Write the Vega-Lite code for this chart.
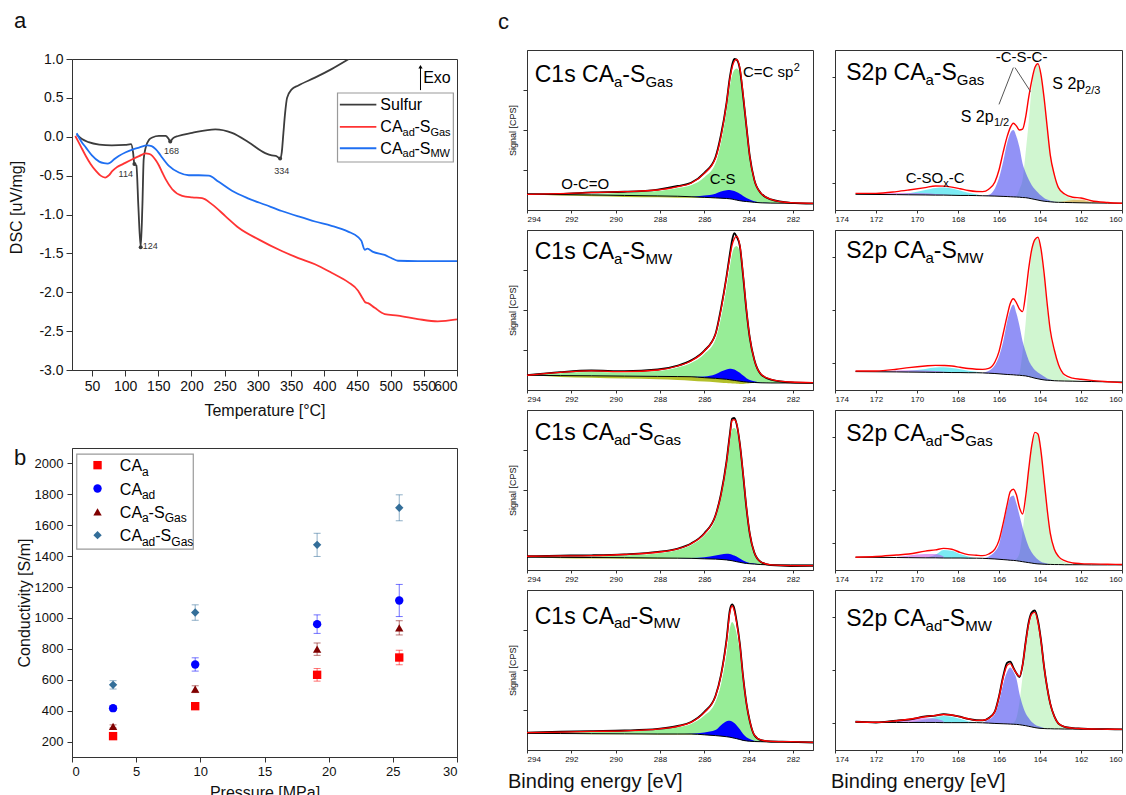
{
"config": {
 "font": "Liberation Sans",
 "locale": {"number": {"decimal": ".", "thousands": ",", "grouping": [3], "currency": ["$", ""], "minus": "-"}},
 "view": {"stroke": "#333333", "strokeWidth": 1},
 "axis": {"labelFont": "Liberation Sans", "titleFont": "Liberation Sans", "titleFontWeight": "normal", "domainColor": "#333333", "tickColor": "#333333", "labelColor": "#111111", "titleColor": "#111111", "grid": false, "labelOverlap": false, "minExtent": 0},
 "title": {"font": "Liberation Sans", "fontWeight": "normal", "color": "#111111"},
 "text": {"font": "Liberation Sans", "color": "#111111"}
},
"padding": {"left": 8, "top": 9, "right": 0, "bottom": 0},
"spacing": 40,
"datasets": {
 "dsc": [
  {"s":"Sulfur","T":27,"v":0.03},{"s":"Sulfur","T":35,"v":-0.03},{"s":"Sulfur","T":45,"v":-0.07},{"s":"Sulfur","T":61,"v":-0.1},{"s":"Sulfur","T":80,"v":-0.11},{"s":"Sulfur","T":100,"v":-0.105},{"s":"Sulfur","T":109,"v":-0.095},{"s":"Sulfur","T":112,"v":-0.2},{"s":"Sulfur","T":114,"v":-0.35},{"s":"Sulfur","T":117,"v":-0.37},{"s":"Sulfur","T":120,"v":-0.9},{"s":"Sulfur","T":123.5,"v":-1.42},{"s":"Sulfur","T":126,"v":-0.9},{"s":"Sulfur","T":128,"v":-0.29},{"s":"Sulfur","T":131,"v":-0.14},{"s":"Sulfur","T":136,"v":-0.04},{"s":"Sulfur","T":141,"v":-0.01},{"s":"Sulfur","T":151,"v":0.01},{"s":"Sulfur","T":161,"v":0.01},{"s":"Sulfur","T":165,"v":-0.02},{"s":"Sulfur","T":168,"v":-0.06},{"s":"Sulfur","T":172,"v":-0.02},{"s":"Sulfur","T":180,"v":0.01},{"s":"Sulfur","T":201,"v":0.05},{"s":"Sulfur","T":236,"v":0.095},{"s":"Sulfur","T":261,"v":0.05},{"s":"Sulfur","T":286,"v":-0.07},{"s":"Sulfur","T":311,"v":-0.21},{"s":"Sulfur","T":321,"v":-0.24},{"s":"Sulfur","T":327,"v":-0.245},{"s":"Sulfur","T":333.5,"v":-0.28},{"s":"Sulfur","T":336,"v":-0.2},{"s":"Sulfur","T":338.5,"v":0.05},{"s":"Sulfur","T":341,"v":0.3},{"s":"Sulfur","T":344,"v":0.5},{"s":"Sulfur","T":351,"v":0.61},{"s":"Sulfur","T":361,"v":0.66},{"s":"Sulfur","T":386,"v":0.76},{"s":"Sulfur","T":411,"v":0.87},{"s":"Sulfur","T":437,"v":1.0},
  {"s":"CAad-SGas","T":25,"v":0.01},{"s":"CAad-SGas","T":33,"v":-0.12},{"s":"CAad-SGas","T":41,"v":-0.25},{"s":"CAad-SGas","T":48,"v":-0.35},{"s":"CAad-SGas","T":56,"v":-0.44},{"s":"CAad-SGas","T":63,"v":-0.5},{"s":"CAad-SGas","T":70,"v":-0.525},{"s":"CAad-SGas","T":75,"v":-0.5},{"s":"CAad-SGas","T":81,"v":-0.44},{"s":"CAad-SGas","T":88,"v":-0.39},{"s":"CAad-SGas","T":96,"v":-0.355},{"s":"CAad-SGas","T":111,"v":-0.29},{"s":"CAad-SGas","T":121,"v":-0.25},{"s":"CAad-SGas","T":131,"v":-0.215},{"s":"CAad-SGas","T":136,"v":-0.22},{"s":"CAad-SGas","T":141,"v":-0.245},{"s":"CAad-SGas","T":146,"v":-0.3},{"s":"CAad-SGas","T":151,"v":-0.37},{"s":"CAad-SGas","T":156,"v":-0.46},{"s":"CAad-SGas","T":161,"v":-0.545},{"s":"CAad-SGas","T":171,"v":-0.675},{"s":"CAad-SGas","T":186,"v":-0.76},{"s":"CAad-SGas","T":201,"v":-0.78},{"s":"CAad-SGas","T":216,"v":-0.79},{"s":"CAad-SGas","T":231,"v":-0.87},{"s":"CAad-SGas","T":251,"v":-1.02},{"s":"CAad-SGas","T":271,"v":-1.17},{"s":"CAad-SGas","T":301,"v":-1.32},{"s":"CAad-SGas","T":336,"v":-1.47},{"s":"CAad-SGas","T":361,"v":-1.56},{"s":"CAad-SGas","T":386,"v":-1.64},{"s":"CAad-SGas","T":411,"v":-1.75},{"s":"CAad-SGas","T":436,"v":-1.87},{"s":"CAad-SGas","T":451,"v":-1.98},{"s":"CAad-SGas","T":458,"v":-2.08},{"s":"CAad-SGas","T":462,"v":-2.13},{"s":"CAad-SGas","T":466,"v":-2.14},{"s":"CAad-SGas","T":476,"v":-2.2},{"s":"CAad-SGas","T":491,"v":-2.28},{"s":"CAad-SGas","T":511,"v":-2.3},{"s":"CAad-SGas","T":541,"v":-2.345},{"s":"CAad-SGas","T":571,"v":-2.375},{"s":"CAad-SGas","T":600,"v":-2.35},
  {"s":"CAad-SMW","T":27,"v":0.045},{"s":"CAad-SMW","T":34,"v":-0.06},{"s":"CAad-SMW","T":41,"v":-0.14},{"s":"CAad-SMW","T":50,"v":-0.24},{"s":"CAad-SMW","T":61,"v":-0.32},{"s":"CAad-SMW","T":68,"v":-0.34},{"s":"CAad-SMW","T":73.5,"v":-0.345},{"s":"CAad-SMW","T":78,"v":-0.33},{"s":"CAad-SMW","T":83.5,"v":-0.29},{"s":"CAad-SMW","T":91,"v":-0.245},{"s":"CAad-SMW","T":101,"v":-0.2},{"s":"CAad-SMW","T":111,"v":-0.165},{"s":"CAad-SMW","T":121,"v":-0.14},{"s":"CAad-SMW","T":133.5,"v":-0.11},{"s":"CAad-SMW","T":140,"v":-0.12},{"s":"CAad-SMW","T":146,"v":-0.16},{"s":"CAad-SMW","T":151,"v":-0.21},{"s":"CAad-SMW","T":156,"v":-0.27},{"s":"CAad-SMW","T":166,"v":-0.375},{"s":"CAad-SMW","T":181,"v":-0.46},{"s":"CAad-SMW","T":196,"v":-0.495},{"s":"CAad-SMW","T":211,"v":-0.495},{"s":"CAad-SMW","T":226,"v":-0.5},{"s":"CAad-SMW","T":241,"v":-0.58},{"s":"CAad-SMW","T":261,"v":-0.695},{"s":"CAad-SMW","T":286,"v":-0.795},{"s":"CAad-SMW","T":311,"v":-0.875},{"s":"CAad-SMW","T":336,"v":-0.955},{"s":"CAad-SMW","T":361,"v":-1.025},{"s":"CAad-SMW","T":386,"v":-1.09},{"s":"CAad-SMW","T":411,"v":-1.145},{"s":"CAad-SMW","T":436,"v":-1.22},{"s":"CAad-SMW","T":451,"v":-1.29},{"s":"CAad-SMW","T":456,"v":-1.34},{"s":"CAad-SMW","T":461,"v":-1.455},{"s":"CAad-SMW","T":465,"v":-1.44},{"s":"CAad-SMW","T":473.5,"v":-1.48},{"s":"CAad-SMW","T":491,"v":-1.52},{"s":"CAad-SMW","T":501,"v":-1.56},{"s":"CAad-SMW","T":511,"v":-1.595},{"s":"CAad-SMW","T":541,"v":-1.6},{"s":"CAad-SMW","T":600,"v":-1.6}
 ],
 "dscPeaks": [{"T":114,"v":-0.35},{"T":123.5,"v":-1.42},{"T":168,"v":-0.06},{"T":333.5,"v":-0.28}],
 "dscPeakLabels": [{"t":"114","T":101,"v":-0.52},{"t":"124","T":138,"v":-1.445},{"t":"168","T":170,"v":-0.225},{"t":"334","T":336,"v":-0.48}],
 "legA": [{"s":"Sulfur","T1":423.5,"T2":478.5,"v":0.413},{"s":"CAad-SGas","T1":423.5,"T2":478.5,"v":0.126},{"s":"CAad-SMW","T1":423.5,"T2":478.5,"v":-0.148}],
 "legAtext": [
  {"t":"Sulfur","T":484.5,"v":0.345,"k":"m"},
  {"t":"CA","T":484.5,"v":0.058,"k":"m"},{"t":"ad","T":518,"v":0.014,"k":"s"},{"t":"-S","T":536,"v":0.058,"k":"m"},{"t":"Gas","T":560,"v":0.014,"k":"s"},
  {"t":"CA","T":484.5,"v":-0.216,"k":"m"},{"t":"ad","T":518,"v":-0.26,"k":"s"},{"t":"-S","T":536,"v":-0.216,"k":"m"},{"t":"MW","T":560,"v":-0.26,"k":"s"},
  {"t":"Exo","T":549,"v":0.69,"k":"m"}
 ],
 "cond": [
  {"s":"CAa","P":3.2,"k":235,"e":8},{"s":"CAa","P":9.6,"k":429,"e":15},{"s":"CAa","P":19.1,"k":632,"e":41},{"s":"CAa","P":25.5,"k":744,"e":47},
  {"s":"CAad","P":3.2,"k":416,"e":15},{"s":"CAad","P":9.6,"k":699,"e":43},{"s":"CAad","P":19.1,"k":960,"e":60},{"s":"CAad","P":25.5,"k":1113,"e":104},
  {"s":"CAa-SGas","P":3.2,"k":298,"e":10},{"s":"CAa-SGas","P":9.6,"k":539,"e":22},{"s":"CAa-SGas","P":19.1,"k":798,"e":40},{"s":"CAa-SGas","P":25.5,"k":936,"e":46},
  {"s":"CAad-SGas","P":3.2,"k":567,"e":27},{"s":"CAad-SGas","P":9.6,"k":1035,"e":50},{"s":"CAad-SGas","P":19.1,"k":1473,"e":75},{"s":"CAad-SGas","P":25.5,"k":1713,"e":84}
 ],
 "legB": [{"s":"CAa","P":1.99,"k":1989},{"s":"CAad","P":1.99,"k":1838},{"s":"CAa-SGas","P":1.99,"k":1687},{"s":"CAad-SGas","P":1.99,"k":1536}],
 "legBtext": [
  {"t":"CA","P":3.73,"k":1950,"z":"m"},{"t":"a","P":5.45,"k":1920,"z":"s"},
  {"t":"CA","P":3.73,"k":1799,"z":"m"},{"t":"ad","P":5.45,"k":1769,"z":"s"},
  {"t":"CA","P":3.73,"k":1648,"z":"m"},{"t":"a","P":5.45,"k":1618,"z":"s"},{"t":"-S","P":5.97,"k":1648,"z":"m"},{"t":"Gas","P":7.22,"k":1618,"z":"s"},
  {"t":"CA","P":3.73,"k":1497,"z":"m"},{"t":"ad","P":5.45,"k":1467,"z":"s"},{"t":"-S","P":6.49,"k":1497,"z":"m"},{"t":"Gas","P":7.74,"k":1467,"z":"s"}
 ],
 "c1s": [
  {"p":"r1","e":294,"f":0.098,"d":0.099,"bg":0.098,"g":0.098,"b":0.098,"o":0.098},
  {"p":"r1","e":292.5,"f":0.102,"d":0.1,"bg":0.096,"g":0.099,"b":0.096,"o":0.09},
  {"p":"r1","e":291.1,"f":0.108,"d":0.11,"bg":0.094,"g":0.1,"b":0.094,"o":0.086},
  {"p":"r1","e":289.6,"f":0.115,"d":0.114,"bg":0.091,"g":0.108,"b":0.091,"o":0.082},
  {"p":"r1","e":288.1,"f":0.125,"d":0.128,"bg":0.088,"g":0.118,"b":0.088,"o":0.079},
  {"p":"r1","e":287.2,"f":0.146,"d":0.15,"bg":0.086,"g":0.138,"b":0.086,"o":0.077},
  {"p":"r1","e":286.6,"f":0.167,"d":0.17,"bg":0.083,"g":0.155,"b":0.083,"o":0.076},
  {"p":"r1","e":286,"f":0.229,"d":0.232,"bg":0.079,"g":0.205,"b":0.09,"o":0.075},
  {"p":"r1","e":285.5,"f":0.323,"d":0.33,"bg":0.076,"g":0.29,"b":0.102,"o":0.074},
  {"p":"r1","e":285.25,"f":0.46,"d":0.47,"bg":0.074,"g":0.42,"b":0.115,"o":0.074},
  {"p":"r1","e":285,"f":0.667,"d":0.67,"bg":0.072,"g":0.62,"b":0.123,"o":0.072},
  {"p":"r1","e":284.85,"f":0.82,"d":0.83,"bg":0.07,"g":0.77,"b":0.125,"o":0.07},
  {"p":"r1","e":284.75,"f":0.89,"d":0.905,"bg":0.068,"g":0.84,"b":0.122,"o":0.068},
  {"p":"r1","e":284.65,"f":0.93,"d":0.945,"bg":0.065,"g":0.875,"b":0.118,"o":0.065},
  {"p":"r1","e":284.55,"f":0.942,"d":0.94,"bg":0.062,"g":0.885,"b":0.112,"o":0.062},
  {"p":"r1","e":284.4,"f":0.89,"d":0.88,"bg":0.058,"g":0.86,"b":0.102,"o":0.058},
  {"p":"r1","e":284.25,"f":0.72,"d":0.71,"bg":0.055,"g":0.7,"b":0.088,"o":0.055},
  {"p":"r1","e":284.1,"f":0.52,"d":0.52,"bg":0.053,"g":0.51,"b":0.075,"o":0.053},
  {"p":"r1","e":283.95,"f":0.333,"d":0.335,"bg":0.051,"g":0.325,"b":0.065,"o":0.051},
  {"p":"r1","e":283.75,"f":0.19,"d":0.19,"bg":0.048,"g":0.185,"b":0.055,"o":0.048},
  {"p":"r1","e":283.45,"f":0.105,"d":0.105,"bg":0.045,"g":0.103,"b":0.047,"o":0.045},
  {"p":"r1","e":283,"f":0.067,"d":0.066,"bg":0.043,"g":0.066,"b":0.043,"o":0.043},
  {"p":"r1","e":282.1,"f":0.046,"d":0.045,"bg":0.042,"g":0.046,"b":0.042,"o":0.042},
  {"p":"r1","e":281.1,"f":0.042,"d":0.04,"bg":0.042,"g":0.042,"b":0.042,"o":0.042},
  {"p":"r2","e":294,"f":0.092,"d":0.093,"bg":0.092,"g":0.092,"b":0.092,"o":0.092},
  {"p":"r2","e":292.5,"f":0.11,"d":0.112,"bg":0.09,"g":0.105,"b":0.09,"o":0.082},
  {"p":"r2","e":291.1,"f":0.119,"d":0.122,"bg":0.089,"g":0.112,"b":0.089,"o":0.077},
  {"p":"r2","e":289.6,"f":0.115,"d":0.118,"bg":0.087,"g":0.11,"b":0.087,"o":0.072},
  {"p":"r2","e":288.1,"f":0.125,"d":0.128,"bg":0.085,"g":0.118,"b":0.085,"o":0.067},
  {"p":"r2","e":287.2,"f":0.15,"d":0.152,"bg":0.084,"g":0.14,"b":0.084,"o":0.062},
  {"p":"r2","e":286.6,"f":0.181,"d":0.185,"bg":0.083,"g":0.168,"b":0.083,"o":0.058},
  {"p":"r2","e":286,"f":0.244,"d":0.246,"bg":0.077,"g":0.225,"b":0.085,"o":0.053},
  {"p":"r2","e":285.5,"f":0.348,"d":0.35,"bg":0.073,"g":0.315,"b":0.098,"o":0.049},
  {"p":"r2","e":285.25,"f":0.5,"d":0.51,"bg":0.07,"g":0.45,"b":0.115,"o":0.046},
  {"p":"r2","e":285,"f":0.705,"d":0.71,"bg":0.067,"g":0.64,"b":0.128,"o":0.044},
  {"p":"r2","e":284.85,"f":0.83,"d":0.85,"bg":0.064,"g":0.77,"b":0.133,"o":0.042},
  {"p":"r2","e":284.75,"f":0.905,"d":0.935,"bg":0.062,"g":0.85,"b":0.132,"o":0.041},
  {"p":"r2","e":284.65,"f":0.945,"d":0.98,"bg":0.06,"g":0.89,"b":0.128,"o":0.04},
  {"p":"r2","e":284.55,"f":0.962,"d":0.96,"bg":0.058,"g":0.9,"b":0.12,"o":0.039},
  {"p":"r2","e":284.4,"f":0.905,"d":0.9,"bg":0.055,"g":0.86,"b":0.108,"o":0.038},
  {"p":"r2","e":284.25,"f":0.72,"d":0.71,"bg":0.052,"g":0.69,"b":0.09,"o":0.038},
  {"p":"r2","e":284.1,"f":0.5,"d":0.495,"bg":0.05,"g":0.48,"b":0.074,"o":0.04},
  {"p":"r2","e":283.95,"f":0.327,"d":0.325,"bg":0.048,"g":0.315,"b":0.062,"o":0.042},
  {"p":"r2","e":283.75,"f":0.19,"d":0.19,"bg":0.047,"g":0.185,"b":0.054,"o":0.043},
  {"p":"r2","e":283.45,"f":0.1,"d":0.098,"bg":0.045,"g":0.098,"b":0.047,"o":0.044},
  {"p":"r2","e":283,"f":0.067,"d":0.065,"bg":0.044,"g":0.066,"b":0.044,"o":0.044},
  {"p":"r2","e":282.1,"f":0.05,"d":0.048,"bg":0.044,"g":0.05,"b":0.044,"o":0.044},
  {"p":"r2","e":281.1,"f":0.046,"d":0.045,"bg":0.044,"g":0.046,"b":0.044,"o":0.044},
  {"p":"r3","e":294,"f":0.086,"d":0.086,"bg":0.08,"g":0.08,"b":0.08,"o":0.08},
  {"p":"r3","e":292.5,"f":0.088,"d":0.09,"bg":0.079,"g":0.082,"b":0.079,"o":0.074},
  {"p":"r3","e":291.1,"f":0.09,"d":0.092,"bg":0.078,"g":0.084,"b":0.078,"o":0.072},
  {"p":"r3","e":289.6,"f":0.097,"d":0.098,"bg":0.077,"g":0.09,"b":0.077,"o":0.071},
  {"p":"r3","e":288.1,"f":0.111,"d":0.113,"bg":0.075,"g":0.104,"b":0.075,"o":0.071},
  {"p":"r3","e":287.2,"f":0.132,"d":0.134,"bg":0.074,"g":0.125,"b":0.074,"o":0.072},
  {"p":"r3","e":286.6,"f":0.164,"d":0.166,"bg":0.073,"g":0.155,"b":0.075,"o":0.073},
  {"p":"r3","e":286,"f":0.227,"d":0.23,"bg":0.07,"g":0.215,"b":0.08,"o":0.07},
  {"p":"r3","e":285.5,"f":0.34,"d":0.34,"bg":0.068,"g":0.32,"b":0.09,"o":0.068},
  {"p":"r3","e":285.25,"f":0.47,"d":0.475,"bg":0.066,"g":0.45,"b":0.097,"o":0.066},
  {"p":"r3","e":285,"f":0.675,"d":0.68,"bg":0.063,"g":0.645,"b":0.101,"o":0.063},
  {"p":"r3","e":284.85,"f":0.84,"d":0.85,"bg":0.06,"g":0.8,"b":0.1,"o":0.06},
  {"p":"r3","e":284.75,"f":0.935,"d":0.945,"bg":0.058,"g":0.88,"b":0.096,"o":0.058},
  {"p":"r3","e":284.65,"f":0.94,"d":0.95,"bg":0.055,"g":0.888,"b":0.09,"o":0.055},
  {"p":"r3","e":284.55,"f":0.918,"d":0.915,"bg":0.052,"g":0.87,"b":0.084,"o":0.052},
  {"p":"r3","e":284.4,"f":0.79,"d":0.79,"bg":0.048,"g":0.76,"b":0.072,"o":0.048},
  {"p":"r3","e":284.25,"f":0.6,"d":0.595,"bg":0.044,"g":0.58,"b":0.06,"o":0.044},
  {"p":"r3","e":284.1,"f":0.39,"d":0.385,"bg":0.041,"g":0.38,"b":0.05,"o":0.041},
  {"p":"r3","e":283.95,"f":0.227,"d":0.225,"bg":0.039,"g":0.22,"b":0.044,"o":0.039},
  {"p":"r3","e":283.75,"f":0.11,"d":0.11,"bg":0.037,"g":0.108,"b":0.04,"o":0.037},
  {"p":"r3","e":283.45,"f":0.05,"d":0.05,"bg":0.034,"g":0.05,"b":0.035,"o":0.034},
  {"p":"r3","e":283,"f":0.032,"d":0.03,"bg":0.032,"g":0.032,"b":0.032,"o":0.032},
  {"p":"r3","e":282.1,"f":0.027,"d":0.025,"bg":0.032,"g":0.027,"b":0.032,"o":0.032},
  {"p":"r3","e":281.1,"f":0.027,"d":0.026,"bg":0.032,"g":0.027,"b":0.032,"o":0.032},
  {"p":"r4","e":294,"f":0.108,"d":0.108,"bg":0.104,"g":0.104,"b":0.104,"o":0.104},
  {"p":"r4","e":292.5,"f":0.112,"d":0.114,"bg":0.103,"g":0.108,"b":0.103,"o":0.1},
  {"p":"r4","e":291.1,"f":0.116,"d":0.118,"bg":0.102,"g":0.112,"b":0.102,"o":0.099},
  {"p":"r4","e":289.6,"f":0.12,"d":0.122,"bg":0.101,"g":0.116,"b":0.101,"o":0.098},
  {"p":"r4","e":288.1,"f":0.131,"d":0.132,"bg":0.1,"g":0.127,"b":0.1,"o":0.097},
  {"p":"r4","e":287.2,"f":0.148,"d":0.15,"bg":0.1,"g":0.142,"b":0.1,"o":0.097},
  {"p":"r4","e":286.6,"f":0.173,"d":0.175,"bg":0.1,"g":0.163,"b":0.102,"o":0.097},
  {"p":"r4","e":286,"f":0.235,"d":0.238,"bg":0.095,"g":0.215,"b":0.11,"o":0.093},
  {"p":"r4","e":285.5,"f":0.335,"d":0.338,"bg":0.09,"g":0.3,"b":0.125,"o":0.089},
  {"p":"r4","e":285.25,"f":0.465,"d":0.47,"bg":0.087,"g":0.41,"b":0.155,"o":0.086},
  {"p":"r4","e":285,"f":0.68,"d":0.69,"bg":0.083,"g":0.6,"b":0.18,"o":0.083},
  {"p":"r4","e":284.85,"f":0.86,"d":0.875,"bg":0.08,"g":0.76,"b":0.183,"o":0.08},
  {"p":"r4","e":284.75,"f":0.9,"d":0.91,"bg":0.077,"g":0.8,"b":0.178,"o":0.077},
  {"p":"r4","e":284.65,"f":0.87,"d":0.885,"bg":0.074,"g":0.78,"b":0.168,"o":0.074},
  {"p":"r4","e":284.55,"f":0.8,"d":0.81,"bg":0.071,"g":0.73,"b":0.155,"o":0.071},
  {"p":"r4","e":284.4,"f":0.66,"d":0.665,"bg":0.066,"g":0.61,"b":0.13,"o":0.066},
  {"p":"r4","e":284.25,"f":0.453,"d":0.455,"bg":0.06,"g":0.42,"b":0.1,"o":0.06},
  {"p":"r4","e":284.1,"f":0.29,"d":0.29,"bg":0.057,"g":0.275,"b":0.08,"o":0.057},
  {"p":"r4","e":283.95,"f":0.18,"d":0.18,"bg":0.055,"g":0.17,"b":0.069,"o":0.055},
  {"p":"r4","e":283.75,"f":0.095,"d":0.094,"bg":0.053,"g":0.092,"b":0.058,"o":0.053},
  {"p":"r4","e":283.45,"f":0.063,"d":0.062,"bg":0.052,"g":0.062,"b":0.053,"o":0.052},
  {"p":"r4","e":283,"f":0.054,"d":0.053,"bg":0.05,"g":0.054,"b":0.05,"o":0.05},
  {"p":"r4","e":282.1,"f":0.052,"d":0.051,"bg":0.049,"g":0.052,"b":0.049,"o":0.049},
  {"p":"r4","e":281.1,"f":0.048,"d":0.047,"bg":0.048,"g":0.048,"b":0.048,"o":0.048},
  {"p":"r1","e":293.65,"y":0.8,"t":"C1s CA","k":"T"},{"p":"r1","e":290.08,"y":0.77,"t":"a","k":"Ts"},{"p":"r1","e":289.7,"y":0.8,"t":"-S","k":"T"},{"p":"r1","e":288.66,"y":0.77,"t":"Gas","k":"Ts"},
  {"p":"r1","e":284.26,"y":0.833,"t":"C=C sp","k":"L"},{"p":"r1","e":281.97,"y":0.87,"t":"2","k":"S"},{"p":"r1","e":292.45,"y":0.129,"t":"O-C=O","k":"L"},{"p":"r1","e":285.76,"y":0.1625,"t":"C-S","k":"L"},
  {"p":"r2","e":293.65,"y":0.82,"t":"C1s CA","k":"T"},{"p":"r2","e":290.08,"y":0.79,"t":"a","k":"Ts"},{"p":"r2","e":289.7,"y":0.82,"t":"-S","k":"T"},{"p":"r2","e":288.66,"y":0.79,"t":"MW","k":"Ts"},
  {"p":"r3","e":293.65,"y":0.81,"t":"C1s CA","k":"T"},{"p":"r3","e":290.08,"y":0.78,"t":"ad","k":"Ts"},{"p":"r3","e":289.33,"y":0.81,"t":"-S","k":"T"},{"p":"r3","e":288.29,"y":0.78,"t":"Gas","k":"Ts"},
  {"p":"r4","e":293.65,"y":0.79,"t":"C1s CA","k":"T"},{"p":"r4","e":290.08,"y":0.76,"t":"ad","k":"Ts"},{"p":"r4","e":289.33,"y":0.79,"t":"-S","k":"T"},{"p":"r4","e":288.29,"y":0.76,"t":"MW","k":"Ts"}
 ],
 "s2p": [
  {"p":"r1","e":173,"f":0.104,"bg":0.098,"m":0.098},
  {"p":"r1","e":172,"f":0.104,"bg":0.097,"m":0.102},
  {"p":"r1","e":171,"f":0.115,"bg":0.096,"c":0.096,"m":0.106},
  {"p":"r1","e":170.4,"f":0.125,"bg":0.095,"c":0.105,"m":0.106},
  {"p":"r1","e":169.6,"f":0.14,"bg":0.094,"c":0.125,"m":0.104},
  {"p":"r1","e":169.1,"f":0.15,"bg":0.093,"c":0.138,"m":0.1},
  {"p":"r1","e":168.7,"f":0.149,"bg":0.093,"c":0.14,"m":0.097},
  {"p":"r1","e":168.3,"f":0.143,"bg":0.092,"c":0.135,"m":0.094},
  {"p":"r1","e":167.9,"f":0.133,"bg":0.091,"c":0.122,"m":0.091},
  {"p":"r1","e":167.5,"f":0.122,"bg":0.091,"c":0.108},
  {"p":"r1","e":167.1,"f":0.116,"bg":0.09,"c":0.098},
  {"p":"r1","e":166.8,"f":0.115,"bg":0.089,"c":0.089,"b":0.089},
  {"p":"r1","e":166.5,"f":0.13,"bg":0.088,"b":0.095},
  {"p":"r1","e":166.2,"f":0.175,"bg":0.087,"b":0.135},
  {"p":"r1","e":166,"f":0.25,"bg":0.086,"b":0.2},
  {"p":"r1","e":165.8,"f":0.36,"bg":0.085,"b":0.3},
  {"p":"r1","e":165.6,"f":0.46,"bg":0.084,"b":0.42},
  {"p":"r1","e":165.45,"f":0.515,"bg":0.083,"b":0.48},
  {"p":"r1","e":165.3,"f":0.542,"bg":0.082,"b":0.5,"g":0.082},
  {"p":"r1","e":165.15,"f":0.525,"bg":0.081,"b":0.46,"g":0.09},
  {"p":"r1","e":165,"f":0.5,"bg":0.08,"b":0.39,"g":0.13},
  {"p":"r1","e":164.85,"f":0.505,"bg":0.078,"b":0.29,"g":0.19},
  {"p":"r1","e":164.7,"f":0.58,"bg":0.077,"b":0.235,"g":0.36},
  {"p":"r1","e":164.55,"f":0.705,"bg":0.074,"b":0.19,"g":0.55},
  {"p":"r1","e":164.4,"f":0.81,"bg":0.07,"b":0.155,"g":0.77},
  {"p":"r1","e":164.25,"f":0.89,"bg":0.066,"b":0.13,"g":0.88},
  {"p":"r1","e":164.1,"f":0.915,"bg":0.062,"b":0.11,"g":0.915},
  {"p":"r1","e":163.95,"f":0.845,"bg":0.058,"b":0.09,"g":0.84},
  {"p":"r1","e":163.8,"f":0.7,"bg":0.055,"b":0.075,"g":0.7},
  {"p":"r1","e":163.65,"f":0.52,"bg":0.053,"b":0.065,"g":0.52},
  {"p":"r1","e":163.5,"f":0.345,"bg":0.051,"b":0.058,"g":0.35},
  {"p":"r1","e":163.3,"f":0.22,"bg":0.049,"b":0.052,"g":0.22},
  {"p":"r1","e":163.1,"f":0.14,"bg":0.048,"b":0.048,"g":0.14,"o":0.048},
  {"p":"r1","e":162.8,"f":0.1,"bg":0.047,"g":0.095,"o":0.055},
  {"p":"r1","e":162.4,"f":0.08,"bg":0.046,"g":0.07,"o":0.062},
  {"p":"r1","e":162,"f":0.075,"bg":0.045,"g":0.06,"o":0.065},
  {"p":"r1","e":161.5,"f":0.058,"bg":0.044,"g":0.05,"o":0.05},
  {"p":"r1","e":160.7,"f":0.047,"bg":0.043,"g":0.043,"o":0.043},
  {"p":"r1","e":160,"f":0.042,"bg":0.042},
  {"p":"r2","e":173,"f":0.119,"bg":0.115,"m":0.115},
  {"p":"r2","e":172,"f":0.119,"bg":0.114,"m":0.116},
  {"p":"r2","e":171,"f":0.13,"bg":0.113,"c":0.113,"m":0.122},
  {"p":"r2","e":170.4,"f":0.14,"bg":0.112,"c":0.12,"m":0.124},
  {"p":"r2","e":169.6,"f":0.15,"bg":0.111,"c":0.132,"m":0.122},
  {"p":"r2","e":169.1,"f":0.154,"bg":0.11,"c":0.14,"m":0.118},
  {"p":"r2","e":168.7,"f":0.153,"bg":0.11,"c":0.142,"m":0.114},
  {"p":"r2","e":168.3,"f":0.15,"bg":0.109,"c":0.138,"m":0.11},
  {"p":"r2","e":167.9,"f":0.142,"bg":0.109,"c":0.13,"m":0.109},
  {"p":"r2","e":167.5,"f":0.134,"bg":0.108,"c":0.12},
  {"p":"r2","e":167.1,"f":0.13,"bg":0.108,"c":0.114},
  {"p":"r2","e":166.8,"f":0.129,"bg":0.107,"c":0.107,"b":0.107},
  {"p":"r2","e":166.5,"f":0.135,"bg":0.105,"b":0.12},
  {"p":"r2","e":166.2,"f":0.175,"bg":0.103,"b":0.155},
  {"p":"r2","e":166,"f":0.24,"bg":0.101,"b":0.21},
  {"p":"r2","e":165.8,"f":0.35,"bg":0.099,"b":0.3},
  {"p":"r2","e":165.6,"f":0.465,"bg":0.097,"b":0.43},
  {"p":"r2","e":165.45,"f":0.54,"bg":0.096,"b":0.5},
  {"p":"r2","e":165.3,"f":0.57,"bg":0.095,"b":0.535,"g":0.095},
  {"p":"r2","e":165.15,"f":0.545,"bg":0.093,"b":0.48,"g":0.093},
  {"p":"r2","e":165,"f":0.505,"bg":0.092,"b":0.4,"g":0.11},
  {"p":"r2","e":164.85,"f":0.49,"bg":0.09,"b":0.305,"g":0.24},
  {"p":"r2","e":164.7,"f":0.6,"bg":0.088,"b":0.24,"g":0.42},
  {"p":"r2","e":164.55,"f":0.76,"bg":0.084,"b":0.185,"g":0.67},
  {"p":"r2","e":164.4,"f":0.88,"bg":0.079,"b":0.15,"g":0.86},
  {"p":"r2","e":164.25,"f":0.94,"bg":0.074,"b":0.125,"g":0.94},
  {"p":"r2","e":164.1,"f":0.955,"bg":0.07,"b":0.11,"g":0.945},
  {"p":"r2","e":163.95,"f":0.88,"bg":0.066,"b":0.097,"g":0.86},
  {"p":"r2","e":163.8,"f":0.73,"bg":0.063,"b":0.085,"g":0.71},
  {"p":"r2","e":163.65,"f":0.54,"bg":0.061,"b":0.072,"g":0.52},
  {"p":"r2","e":163.5,"f":0.375,"bg":0.06,"b":0.066,"g":0.36},
  {"p":"r2","e":163.3,"f":0.25,"bg":0.058,"b":0.06,"g":0.24},
  {"p":"r2","e":163.1,"f":0.16,"bg":0.057,"b":0.057,"g":0.15},
  {"p":"r2","e":162.8,"f":0.095,"bg":0.056,"g":0.085},
  {"p":"r2","e":162.4,"f":0.074,"bg":0.055,"g":0.062},
  {"p":"r2","e":162,"f":0.067,"bg":0.054,"g":0.056},
  {"p":"r2","e":161.5,"f":0.06,"bg":0.053,"g":0.053},
  {"p":"r2","e":160.7,"f":0.052,"bg":0.051,"g":0.051},
  {"p":"r2","e":160,"f":0.046,"bg":0.05},
  {"p":"r3","e":173,"f":0.08,"bg":0.08},
  {"p":"r3","e":172,"f":0.084,"bg":0.079},
  {"p":"r3","e":171,"f":0.094,"bg":0.078,"m":0.082},
  {"p":"r3","e":170.4,"f":0.1,"bg":0.077,"m":0.09},
  {"p":"r3","e":169.6,"f":0.118,"bg":0.076,"c":0.076,"m":0.1},
  {"p":"r3","e":169.1,"f":0.126,"bg":0.076,"c":0.095,"m":0.1},
  {"p":"r3","e":168.7,"f":0.135,"bg":0.075,"c":0.125,"m":0.085},
  {"p":"r3","e":168.3,"f":0.13,"bg":0.075,"c":0.12},
  {"p":"r3","e":167.9,"f":0.11,"bg":0.075,"c":0.1},
  {"p":"r3","e":167.5,"f":0.096,"bg":0.074,"c":0.085},
  {"p":"r3","e":167.1,"f":0.092,"bg":0.074,"c":0.074},
  {"p":"r3","e":166.8,"f":0.09,"bg":0.073,"b":0.073},
  {"p":"r3","e":166.5,"f":0.1,"bg":0.071,"b":0.085},
  {"p":"r3","e":166.2,"f":0.13,"bg":0.069,"b":0.115},
  {"p":"r3","e":166,"f":0.185,"bg":0.067,"b":0.16},
  {"p":"r3","e":165.8,"f":0.29,"bg":0.065,"b":0.27},
  {"p":"r3","e":165.6,"f":0.41,"bg":0.063,"b":0.39},
  {"p":"r3","e":165.45,"f":0.49,"bg":0.061,"b":0.455},
  {"p":"r3","e":165.3,"f":0.505,"bg":0.06,"b":0.465,"g":0.06},
  {"p":"r3","e":165.15,"f":0.47,"bg":0.058,"b":0.415,"g":0.07},
  {"p":"r3","e":165,"f":0.39,"bg":0.055,"b":0.34,"g":0.105},
  {"p":"r3","e":164.85,"f":0.35,"bg":0.052,"b":0.265,"g":0.24},
  {"p":"r3","e":164.7,"f":0.458,"bg":0.049,"b":0.2,"g":0.41},
  {"p":"r3","e":164.55,"f":0.63,"bg":0.046,"b":0.145,"g":0.62},
  {"p":"r3","e":164.4,"f":0.78,"bg":0.043,"b":0.11,"g":0.77},
  {"p":"r3","e":164.25,"f":0.86,"bg":0.04,"b":0.085,"g":0.845},
  {"p":"r3","e":164.1,"f":0.85,"bg":0.038,"b":0.065,"g":0.85},
  {"p":"r3","e":163.95,"f":0.74,"bg":0.037,"b":0.052,"g":0.74},
  {"p":"r3","e":163.8,"f":0.563,"bg":0.036,"b":0.045,"g":0.56},
  {"p":"r3","e":163.65,"f":0.38,"bg":0.035,"b":0.04,"g":0.38},
  {"p":"r3","e":163.5,"f":0.23,"bg":0.035,"b":0.035,"g":0.235},
  {"p":"r3","e":163.3,"f":0.13,"bg":0.034,"g":0.13},
  {"p":"r3","e":163.1,"f":0.085,"bg":0.034,"g":0.082},
  {"p":"r3","e":162.8,"f":0.058,"bg":0.033,"g":0.05},
  {"p":"r3","e":162.4,"f":0.044,"bg":0.033,"g":0.037},
  {"p":"r3","e":162,"f":0.04,"bg":0.033,"g":0.033},
  {"p":"r3","e":161.5,"f":0.038,"bg":0.032},
  {"p":"r3","e":160.7,"f":0.036,"bg":0.032},
  {"p":"r3","e":160,"f":0.034,"bg":0.032},
  {"p":"r4","e":173,"f":0.177,"d":0.177,"bg":0.173},
  {"p":"r4","e":172,"f":0.173,"d":0.172,"bg":0.173,"m":0.173},
  {"p":"r4","e":171,"f":0.183,"d":0.184,"bg":0.172,"m":0.18},
  {"p":"r4","e":170.4,"f":0.192,"d":0.19,"bg":0.172,"c":0.172,"m":0.19},
  {"p":"r4","e":169.6,"f":0.208,"d":0.21,"bg":0.172,"c":0.19,"m":0.198},
  {"p":"r4","e":169.1,"f":0.216,"d":0.215,"bg":0.172,"c":0.205,"m":0.195},
  {"p":"r4","e":168.7,"f":0.222,"d":0.224,"bg":0.171,"c":0.212,"m":0.18},
  {"p":"r4","e":168.3,"f":0.219,"d":0.218,"bg":0.171,"c":0.208},
  {"p":"r4","e":167.9,"f":0.207,"d":0.208,"bg":0.171,"c":0.195},
  {"p":"r4","e":167.5,"f":0.195,"d":0.194,"bg":0.171,"c":0.18},
  {"p":"r4","e":167.1,"f":0.185,"d":0.186,"bg":0.171,"c":0.171},
  {"p":"r4","e":166.8,"f":0.186,"d":0.185,"bg":0.17,"b":0.17},
  {"p":"r4","e":166.5,"f":0.198,"d":0.2,"bg":0.168,"b":0.19},
  {"p":"r4","e":166.2,"f":0.24,"d":0.242,"bg":0.166,"b":0.225},
  {"p":"r4","e":166,"f":0.33,"d":0.335,"bg":0.165,"b":0.3},
  {"p":"r4","e":165.8,"f":0.45,"d":0.46,"bg":0.164,"b":0.41},
  {"p":"r4","e":165.6,"f":0.53,"d":0.545,"bg":0.163,"b":0.49},
  {"p":"r4","e":165.45,"f":0.54,"d":0.552,"bg":0.162,"b":0.515,"g":0.162},
  {"p":"r4","e":165.3,"f":0.51,"d":0.515,"bg":0.161,"b":0.49,"g":0.17},
  {"p":"r4","e":165.15,"f":0.48,"d":0.48,"bg":0.16,"b":0.445,"g":0.2},
  {"p":"r4","e":165,"f":0.46,"d":0.455,"bg":0.158,"b":0.35,"g":0.3},
  {"p":"r4","e":164.85,"f":0.53,"d":0.53,"bg":0.155,"b":0.28,"g":0.46},
  {"p":"r4","e":164.7,"f":0.67,"d":0.675,"bg":0.152,"b":0.23,"g":0.63},
  {"p":"r4","e":164.55,"f":0.79,"d":0.8,"bg":0.148,"b":0.2,"g":0.76},
  {"p":"r4","e":164.4,"f":0.85,"d":0.86,"bg":0.144,"b":0.175,"g":0.835},
  {"p":"r4","e":164.25,"f":0.86,"d":0.872,"bg":0.14,"b":0.16,"g":0.855},
  {"p":"r4","e":164.1,"f":0.8,"d":0.81,"bg":0.137,"b":0.15,"g":0.8},
  {"p":"r4","e":163.95,"f":0.68,"d":0.685,"bg":0.135,"b":0.143,"g":0.68},
  {"p":"r4","e":163.8,"f":0.52,"d":0.52,"bg":0.134,"b":0.138,"g":0.52},
  {"p":"r4","e":163.65,"f":0.39,"d":0.39,"bg":0.133,"g":0.39},
  {"p":"r4","e":163.5,"f":0.29,"d":0.29,"bg":0.133,"g":0.29},
  {"p":"r4","e":163.3,"f":0.21,"d":0.21,"bg":0.132,"g":0.21},
  {"p":"r4","e":163.1,"f":0.165,"d":0.165,"bg":0.132,"g":0.165},
  {"p":"r4","e":162.8,"f":0.145,"d":0.145,"bg":0.131,"g":0.142},
  {"p":"r4","e":162.4,"f":0.137,"d":0.137,"bg":0.131,"g":0.135},
  {"p":"r4","e":162,"f":0.134,"d":0.134,"bg":0.13,"g":0.132},
  {"p":"r4","e":161.5,"f":0.131,"d":0.131,"bg":0.13,"g":0.13},
  {"p":"r4","e":160.7,"f":0.13,"d":0.13,"bg":0.13,"g":0.13},
  {"p":"r4","e":160,"f":0.129,"d":0.129,"bg":0.129},
  {"p":"r1","e":173.45,"y":0.81,"t":"S2p CA","k":"T"},{"p":"r1","e":169.58,"y":0.78,"t":"a","k":"Ts"},{"p":"r1","e":169.18,"y":0.81,"t":"-S","k":"T"},{"p":"r1","e":168.06,"y":0.78,"t":"Gas","k":"Ts"},
  {"p":"r1","e":166.16,"y":0.927,"t":"-C-S-C-","k":"L"},{"p":"r1","e":167.87,"y":0.552,"t":"S 2p","k":"M"},{"p":"r1","e":166.25,"y":0.525,"t":"1/2","k":"S"},{"p":"r1","e":163.4,"y":0.754,"t":"S 2p","k":"M"},{"p":"r1","e":161.8,"y":0.727,"t":"2/3","k":"S"},
  {"p":"r1","e":170.55,"y":0.171,"t":"C-SO","k":"L"},{"p":"r1","e":168.72,"y":0.142,"t":"x","k":"S"},{"p":"r1","e":168.45,"y":0.171,"t":"-C","k":"L"},
  {"p":"r1","e":165.3,"y":0.89,"e2":166.0,"y2":0.66,"k":"A"},{"p":"r1","e":165.22,"y":0.89,"e2":164.46,"y2":0.74,"k":"A"},
  {"p":"r2","e":173.45,"y":0.825,"t":"S2p CA","k":"T"},{"p":"r2","e":169.58,"y":0.795,"t":"a","k":"Ts"},{"p":"r2","e":169.18,"y":0.825,"t":"-S","k":"T"},{"p":"r2","e":168.06,"y":0.795,"t":"MW","k":"Ts"},
  {"p":"r3","e":173.45,"y":0.805,"t":"S2p CA","k":"T"},{"p":"r3","e":169.58,"y":0.775,"t":"ad","k":"Ts"},{"p":"r3","e":168.77,"y":0.805,"t":"-S","k":"T"},{"p":"r3","e":167.65,"y":0.775,"t":"Gas","k":"Ts"},
  {"p":"r4","e":173.45,"y":0.775,"t":"S2p CA","k":"T"},{"p":"r4","e":169.58,"y":0.745,"t":"ad","k":"Ts"},{"p":"r4","e":168.77,"y":0.775,"t":"-S","k":"T"},{"p":"r4","e":167.65,"y":0.745,"t":"MW","k":"Ts"}
 ]
},
"hconcat": [
 {
  "spacing": 8,
  "bounds": "flush",
  "vconcat": [
   {"width": 385, "height": 1, "view": {"stroke": null}, "data": {"values": [{}]}, "mark": {"type": "point", "opacity": 0}, "encoding": {}},
   {
    "resolve": {"scale": {"color": "independent", "shape": "independent"}},
    "spacing": 78,
    "bounds": "flush",
    "vconcat": [
     {
      "width": 385, "height": 311,
      "title": {"text": "a", "anchor": "start", "frame": "bounds", "fontSize": 22, "offset": 19, "dx": 5},
      "layer": [
       {"data": {"name": "dsc"}, "mark": {"type": "line", "strokeWidth": 1.8, "interpolate": "monotone", "clip": true},
        "encoding": {
         "x": {"field": "T", "type": "quantitative", "scale": {"domain": [20, 600], "nice": false, "zero": false}, "axis": {"values": [50,100,150,200,250,300,350,400,450,500,550,600], "tickCount": 40, "labelOverlap": false, "labelFontSize": 14, "tickSize": 6, "labelPadding": 3, "title": "Temperature [°C]", "titleFontSize": 16, "titlePadding": 9}},
         "y": {"field": "v", "type": "quantitative", "scale": {"domain": [-3, 1], "nice": false}, "axis": {"values": [-3,-2.5,-2,-1.5,-1,-0.5,0,0.5,1], "tickCount": 40, "labelOverlap": false, "format": ".1f", "labelFontSize": 14, "tickSize": 6, "labelPadding": 3, "title": "DSC [uV/mg]", "titleFontSize": 16, "titlePadding": 14, "titleY": 148}},
         "color": {"field": "s", "type": "nominal", "scale": {"domain": ["Sulfur","CAad-SGas","CAad-SMW"], "range": ["#3c3c3c","#ff3333","#1f6ff2"]}, "legend": null}
        }},
       {"data": {"name": "dscPeaks"}, "mark": {"type": "point", "filled": true, "color": "#3c3c3c", "size": 16, "opacity": 1},
        "encoding": {"x": {"field": "T", "type": "quantitative"}, "y": {"field": "v", "type": "quantitative"}}},
       {"data": {"name": "dscPeakLabels"}, "mark": {"type": "text", "fontSize": 9, "color": "#333333", "align": "center", "baseline": "alphabetic"},
        "encoding": {"x": {"field": "T", "type": "quantitative"}, "y": {"field": "v", "type": "quantitative"}, "text": {"field": "t"}}},
       {"data": {"values": [{}]}, "mark": {"type": "rect", "fill": "white", "stroke": "#9a9a9a", "strokeWidth": 1.2},
        "encoding": {"x": {"datum": 420}, "x2": {"datum": 594.5}, "y": {"datum": 0.563}, "y2": {"datum": -0.325}}},
       {"data": {"name": "legA"}, "mark": {"type": "rule", "strokeWidth": 1.8},
        "encoding": {"x": {"field": "T1", "type": "quantitative"}, "x2": {"field": "T2"}, "y": {"field": "v", "type": "quantitative"}, "color": {"field": "s", "type": "nominal", "legend": null}}},
       {"data": {"name": "legAtext"}, "transform": [{"filter": "datum.k === 'm'"}], "mark": {"type": "text", "align": "left", "baseline": "alphabetic", "fontSize": 16, "color": "#000000"},
        "encoding": {"x": {"field": "T", "type": "quantitative"}, "y": {"field": "v", "type": "quantitative"}, "text": {"field": "t"}}},
       {"data": {"name": "legAtext"}, "transform": [{"filter": "datum.k === 's'"}], "mark": {"type": "text", "align": "left", "baseline": "alphabetic", "fontSize": 11, "color": "#000000"},
        "encoding": {"x": {"field": "T", "type": "quantitative"}, "y": {"field": "v", "type": "quantitative"}, "text": {"field": "t"}}},
       {"data": {"values": [{}]}, "mark": {"type": "rule", "strokeWidth": 1, "color": "#000000"},
        "encoding": {"x": {"datum": 545}, "y": {"datum": 0.6}, "y2": {"datum": 0.9}}},
       {"data": {"values": [{}]}, "mark": {"type": "point", "shape": "triangle-up", "filled": true, "color": "#000000", "size": 18, "opacity": 1},
        "encoding": {"x": {"datum": 545}, "y": {"datum": 0.9}}}
      ]
     },
     {
      "width": 385, "height": 309,
      "title": {"text": "b", "anchor": "start", "frame": "bounds", "fontSize": 22, "dy": 26, "dx": -2},
      "layer": [
       {"data": {"name": "cond"}, "mark": {"type": "errorbar", "ticks": {"size": 7, "opacity": 0.55}, "rule": {"opacity": 0.55}},
        "encoding": {
         "x": {"field": "P", "type": "quantitative", "scale": {"domain": [0, 30], "nice": false}, "axis": {"values": [0,5,10,15,20,25,30], "tickCount": 40, "labelOverlap": false, "labelFontSize": 13, "tickSize": 5, "labelPadding": 3, "title": "Pressure [MPa]", "titleFontSize": 16, "titlePadding": 6}},
         "y": {"field": "k", "type": "quantitative", "scale": {"domain": [100, 2100], "nice": false, "zero": false}, "axis": {"values": [200,400,600,800,1000,1200,1400,1600,1800,2000], "tickCount": 40, "labelOverlap": false, "format": "d", "labelFontSize": 13, "tickSize": 5, "labelPadding": 4, "title": "Conductivity [S/m]", "titleFontSize": 16, "titlePadding": 2}},
         "yError": {"field": "e"},
         "color": {"field": "s", "type": "nominal", "scale": {"domain": ["CAa","CAad","CAa-SGas","CAad-SGas"], "range": ["#ff0000","#0000ff","#800000","#336e99"]}, "legend": null}
        }},
       {"data": {"name": "cond"}, "mark": {"type": "point", "filled": true, "size": 70, "opacity": 1},
        "encoding": {"x": {"field": "P", "type": "quantitative"}, "y": {"field": "k", "type": "quantitative"},
         "color": {"field": "s", "type": "nominal", "legend": null},
         "shape": {"field": "s", "type": "nominal", "scale": {"domain": ["CAa","CAad","CAa-SGas","CAad-SGas"], "range": ["square","circle","triangle-up","diamond"]}, "legend": null}}},
       {"data": {"values": [{}]}, "mark": {"type": "rect", "fill": "white", "stroke": "#9a9a9a", "strokeWidth": 1.2},
        "encoding": {"x": {"datum": 0.37}, "x2": {"datum": 9.45}, "y": {"datum": 2060}, "y2": {"datum": 1446}}},
       {"data": {"name": "legB"}, "mark": {"type": "point", "filled": true, "size": 70, "opacity": 1},
        "encoding": {"x": {"field": "P", "type": "quantitative"}, "y": {"field": "k", "type": "quantitative"},
         "color": {"field": "s", "type": "nominal", "legend": null}, "shape": {"field": "s", "type": "nominal", "legend": null}}},
       {"data": {"name": "legBtext"}, "transform": [{"filter": "datum.z === 'm'"}], "mark": {"type": "text", "align": "left", "baseline": "alphabetic", "fontSize": 16, "color": "#000000"},
        "encoding": {"x": {"field": "P", "type": "quantitative"}, "y": {"field": "k", "type": "quantitative"}, "text": {"field": "t"}}},
       {"data": {"name": "legBtext"}, "transform": [{"filter": "datum.z === 's'"}], "mark": {"type": "text", "align": "left", "baseline": "alphabetic", "fontSize": 12, "color": "#000000"},
        "encoding": {"x": {"field": "P", "type": "quantitative"}, "y": {"field": "k", "type": "quantitative"}, "text": {"field": "t"}}}
      ]
     }
    ]
   }
  ]
 },
 {
  "title": {"text": "c", "anchor": "start", "fontSize": 22, "offset": 14, "dx": -10, "dy": -1},
  "spacing": 13,
  "hconcat": [
   {
    "data": {"name": "c1s"},
    "title": {"text": "Binding energy [eV]", "orient": "bottom", "fontSize": 20, "offset": 8},
    "facet": {"row": {"field": "p", "type": "nominal", "title": null, "header": {"labels": false}}},
    "spacing": 20,
    "bounds": "flush",
    "resolve": {"axis": {"x": "independent", "y": "independent"}},
    "spec": {
     "width": 286, "height": 160,
     "encoding": {"x": {"field": "e", "type": "quantitative", "scale": {"domain": [281.1, 294], "reverse": true, "nice": false, "zero": false}, "axis": {"values": [282,284,286,288,290,292,294], "tickCount": 40, "format": "d", "labelFontSize": 8, "tickSize": 3, "labelPadding": 2, "title": null}}},
     "layer": [
      {"transform": [{"filter": "isValid(datum.o)"}], "mark": {"type": "area", "color": "#b3c02a", "interpolate": "monotone"},
       "encoding": {"y": {"field": "o", "type": "quantitative", "scale": {"domain": [0, 1], "nice": false, "zero": false}, "axis": {"values": [0.25, 0.5, 0.75], "labels": false, "tickSize": 4, "title": "Signal [CPS]", "titleFontSize": 9, "titlePadding": 5}}, "y2": {"field": "bg"}}},
      {"transform": [{"filter": "isValid(datum.g)"}], "mark": {"type": "area", "color": "#97ed97", "interpolate": "monotone"},
       "encoding": {"y": {"field": "g", "type": "quantitative"}, "y2": {"field": "bg"}}},
      {"transform": [{"filter": "isValid(datum.b)"}], "mark": {"type": "area", "color": "#0000ff", "interpolate": "monotone"},
       "encoding": {"y": {"field": "b", "type": "quantitative"}, "y2": {"field": "bg"}}},
      {"transform": [{"filter": "isValid(datum.bg)"}], "mark": {"type": "line", "color": "#000000", "strokeWidth": 1, "interpolate": "monotone"},
       "encoding": {"y": {"field": "bg", "type": "quantitative"}}},
      {"transform": [{"filter": "isValid(datum.d)"}], "mark": {"type": "line", "color": "#000000", "strokeWidth": 1.8, "interpolate": "monotone"},
       "encoding": {"y": {"field": "d", "type": "quantitative"}}},
      {"transform": [{"filter": "isValid(datum.f)"}], "mark": {"type": "line", "color": "#ff0000", "strokeWidth": 1.3, "interpolate": "monotone"},
       "encoding": {"y": {"field": "f", "type": "quantitative"}}},
      {"transform": [{"filter": "datum.k === 'T'"}], "mark": {"type": "text", "align": "left", "baseline": "alphabetic", "fontSize": 23, "color": "#000000"},
       "encoding": {"y": {"field": "y", "type": "quantitative"}, "text": {"field": "t"}}},
      {"transform": [{"filter": "datum.k === 'Ts'"}], "mark": {"type": "text", "align": "left", "baseline": "alphabetic", "fontSize": 15, "color": "#000000"},
       "encoding": {"y": {"field": "y", "type": "quantitative"}, "text": {"field": "t"}}},
      {"transform": [{"filter": "datum.k === 'L'"}], "mark": {"type": "text", "align": "left", "baseline": "alphabetic", "fontSize": 15, "color": "#000000"},
       "encoding": {"y": {"field": "y", "type": "quantitative"}, "text": {"field": "t"}}},
      {"transform": [{"filter": "datum.k === 'S'"}], "mark": {"type": "text", "align": "left", "baseline": "alphabetic", "fontSize": 11, "color": "#000000"},
       "encoding": {"y": {"field": "y", "type": "quantitative"}, "text": {"field": "t"}}}
     ]
    }
   },
   {
    "data": {"name": "s2p"},
    "title": {"text": "Binding energy [eV]", "orient": "bottom", "fontSize": 20, "offset": 8},
    "facet": {"row": {"field": "p", "type": "nominal", "title": null, "header": {"labels": false}}},
    "spacing": 20,
    "bounds": "flush",
    "resolve": {"axis": {"x": "independent", "y": "independent"}},
    "spec": {
     "width": 287, "height": 160,
     "encoding": {"x": {"field": "e", "type": "quantitative", "scale": {"domain": [160, 174], "reverse": true, "nice": false, "zero": false}, "axis": {"values": [160,162,164,166,168,170,172,174], "tickCount": 40, "format": "d", "labelFontSize": 8, "tickSize": 3, "labelPadding": 2, "title": null}}},
     "layer": [
      {"transform": [{"filter": "isValid(datum.c)"}], "mark": {"type": "area", "color": "#4fe3ef", "opacity": 0.75, "interpolate": "monotone"},
       "encoding": {"y": {"field": "c", "type": "quantitative", "scale": {"domain": [0, 1], "nice": false, "zero": false}, "axis": {"values": [0.17, 0.33, 0.5, 0.67, 0.83], "labels": false, "tickSize": 3, "title": null}}, "y2": {"field": "bg"}}},
      {"transform": [{"filter": "isValid(datum.m)"}], "mark": {"type": "area", "color": "#c04ce6", "opacity": 0.55, "interpolate": "monotone"},
       "encoding": {"y": {"field": "m", "type": "quantitative"}, "y2": {"field": "bg"}}},
      {"transform": [{"filter": "isValid(datum.g)"}], "mark": {"type": "area", "color": "#8ae88a", "opacity": 0.4, "interpolate": "monotone"},
       "encoding": {"y": {"field": "g", "type": "quantitative"}, "y2": {"field": "bg"}}},
      {"transform": [{"filter": "isValid(datum.b)"}], "mark": {"type": "area", "color": "#4a4af0", "opacity": 0.6, "interpolate": "monotone"},
       "encoding": {"y": {"field": "b", "type": "quantitative"}, "y2": {"field": "bg"}}},
      {"transform": [{"filter": "isValid(datum.o)"}], "mark": {"type": "area", "color": "#e3a03a", "opacity": 0.6, "interpolate": "monotone"},
       "encoding": {"y": {"field": "o", "type": "quantitative"}, "y2": {"field": "bg"}}},
      {"transform": [{"filter": "isValid(datum.bg)"}], "mark": {"type": "line", "color": "#000000", "strokeWidth": 1, "interpolate": "monotone"},
       "encoding": {"y": {"field": "bg", "type": "quantitative"}}},
      {"transform": [{"filter": "isValid(datum.d)"}], "mark": {"type": "line", "color": "#000000", "strokeWidth": 1.8, "interpolate": "monotone"},
       "encoding": {"y": {"field": "d", "type": "quantitative"}}},
      {"transform": [{"filter": "isValid(datum.f)"}], "mark": {"type": "line", "color": "#ff0000", "strokeWidth": 1.4, "interpolate": "monotone"},
       "encoding": {"y": {"field": "f", "type": "quantitative"}}},
      {"transform": [{"filter": "datum.k === 'A'"}], "mark": {"type": "rule", "color": "#555555", "strokeWidth": 1},
       "encoding": {"x2": {"field": "e2"}, "y": {"field": "y", "type": "quantitative"}, "y2": {"field": "y2"}}},
      {"transform": [{"filter": "datum.k === 'T'"}], "mark": {"type": "text", "align": "left", "baseline": "alphabetic", "fontSize": 23, "color": "#000000"},
       "encoding": {"y": {"field": "y", "type": "quantitative"}, "text": {"field": "t"}}},
      {"transform": [{"filter": "datum.k === 'Ts'"}], "mark": {"type": "text", "align": "left", "baseline": "alphabetic", "fontSize": 15, "color": "#000000"},
       "encoding": {"y": {"field": "y", "type": "quantitative"}, "text": {"field": "t"}}},
      {"transform": [{"filter": "datum.k === 'L'"}], "mark": {"type": "text", "align": "left", "baseline": "alphabetic", "fontSize": 15, "color": "#000000"},
       "encoding": {"y": {"field": "y", "type": "quantitative"}, "text": {"field": "t"}}},
      {"transform": [{"filter": "datum.k === 'M'"}], "mark": {"type": "text", "align": "left", "baseline": "alphabetic", "fontSize": 16, "color": "#000000"},
       "encoding": {"y": {"field": "y", "type": "quantitative"}, "text": {"field": "t"}}},
      {"transform": [{"filter": "datum.k === 'S'"}], "mark": {"type": "text", "align": "left", "baseline": "alphabetic", "fontSize": 11, "color": "#000000"},
       "encoding": {"y": {"field": "y", "type": "quantitative"}, "text": {"field": "t"}}}
     ]
    }
   }
  ]
 }
]
}
